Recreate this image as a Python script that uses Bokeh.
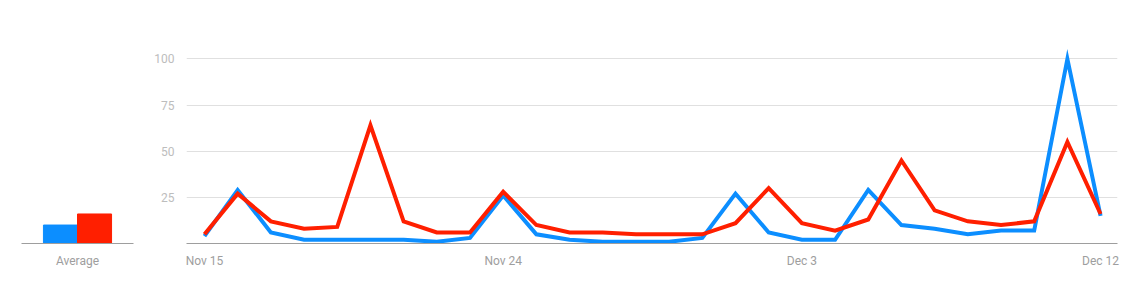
from bokeh.plotting import figure
from bokeh.layouts import row
from bokeh.models import Range1d, FixedTicker, FactorRange
from bokeh.transform import dodge
from bokeh.embed import file_html
from bokeh.resources import INLINE

# ---- data ----
days = list(range(28))  # Nov 15 .. Dec 12
tick_days = [0, 9, 18, 27]
tick_labels = ["Nov 15", "Nov 24", "Dec 3", "Dec 12"]
blue_values = [4, 29, 6, 2, 2, 2, 2, 1, 3, 26, 5, 2, 1, 1, 1, 3, 27, 6, 2, 2, 29, 10, 8, 5, 7, 7, 100, 15]
red_values = [5, 27, 12, 8, 9, 64, 12, 6, 6, 28, 10, 6, 6, 5, 5, 5, 11, 30, 11, 7, 13, 45, 18, 12, 10, 12, 55, 16]
avg_category = ["Average"]
blue_average = [10]
red_average = [16]
y_ticks = [25, 50, 75, 100]

BLUE = "#0c8eff"
RED = "#ff1f00"
FONT = "Roboto"
Y_MAX = 110

# ---- left: average bars ----
left = figure(width=150, height=292, x_range=FactorRange(*avg_category, range_padding=0),
              y_range=Range1d(0, Y_MAX), output_backend="svg", toolbar_location=None,
              min_border_left=21, min_border_right=17, min_border_top=40, min_border_bottom=49)
left.vbar(x=dodge("x", -0.152, range=left.x_range), top="b", width=0.304,
          source=dict(x=avg_category, b=blue_average), color=BLUE)
left.vbar(x=dodge("x", 0.152, range=left.x_range), top="r", width=0.304,
          source=dict(x=avg_category, r=red_average), color=RED)
left.yaxis.visible = False
left.xgrid.visible = False
left.ygrid.visible = False
left.outline_line_color = None
left.xaxis.axis_line_color = "#9e9e9e"
left.xaxis.major_tick_line_color = None
left.xaxis.minor_tick_line_color = None
left.xaxis.major_label_text_font = FONT
left.xaxis.major_label_text_font_size = "12px"
left.xaxis.major_label_text_color = "#9e9e9e"
left.xaxis.major_label_standoff = 4

# ---- main: line chart ----
p = figure(width=997, height=292, x_range=Range1d(-0.542, 27.51), y_range=Range1d(0, Y_MAX),
           output_backend="svg", toolbar_location=None,
           min_border_left=36, min_border_right=30, min_border_top=40, min_border_bottom=49)
p.line(days, blue_values, line_color=BLUE, line_width=4, line_join="miter")
p.line(days, red_values, line_color=RED, line_width=4, line_join="miter")

p.outline_line_color = None
p.xgrid.visible = False
p.ygrid.grid_line_color = "#e0e0e0"
p.ygrid.ticker = FixedTicker(ticks=y_ticks)

p.yaxis.ticker = FixedTicker(ticks=y_ticks)
p.yaxis.axis_line_color = None
p.yaxis.major_tick_line_color = None
p.yaxis.minor_tick_line_color = None
p.yaxis.major_label_text_font = FONT
p.yaxis.major_label_text_font_size = "12px"
p.yaxis.major_label_text_color = "#bdbdbd"
p.yaxis.major_label_standoff = 6

p.xaxis.ticker = FixedTicker(ticks=tick_days)
p.xaxis.major_label_overrides = {d: l for d, l in zip(tick_days, tick_labels)}
p.xaxis.axis_line_color = "#9e9e9e"
p.xaxis.major_tick_line_color = None
p.xaxis.minor_tick_line_color = None
p.xaxis.major_label_text_font = FONT
p.xaxis.major_label_text_font_size = "12px"
p.xaxis.major_label_text_color = "#9e9e9e"
p.xaxis.major_label_standoff = 4

layout = row(left, p)
open("out.html", "w").write(file_html(layout, INLINE))
